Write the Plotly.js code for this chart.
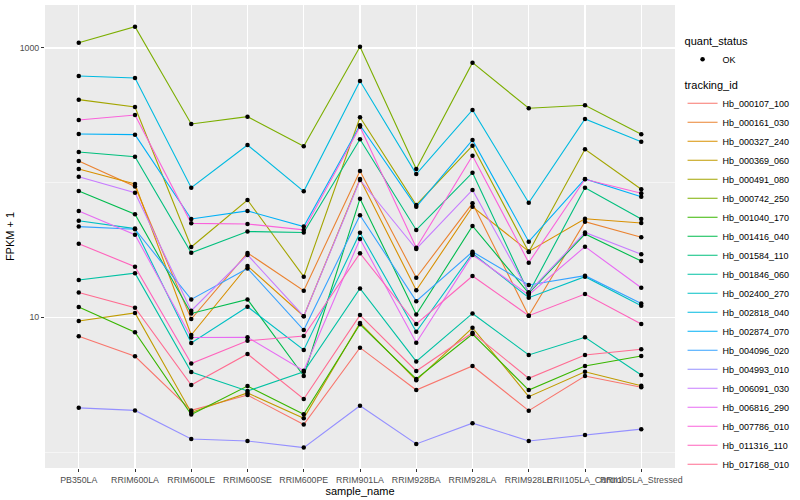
<!DOCTYPE html>
<html><head><meta charset="utf-8">
<script src="https://cdn.plot.ly/plotly-3.0.1.min.js"></script>
<style>html,body{margin:0;padding:0;background:#fff}#chart{width:800px;height:500px}</style>
</head><body><div id="chart"></div>
<script>
const categories = ['PB350LA','RRIM600LA','RRIM600LE','RRIM600SE','RRIM600PE','RRIM901LA','RRIM928BA','RRIM928LA','RRIM928LE','RRII105LA_Control','RRII105LA_Stressed'];
const trackingIds = ['Hb_000107_100','Hb_000161_030','Hb_000327_240','Hb_000369_060','Hb_000491_080','Hb_000742_250','Hb_001040_170','Hb_001416_040','Hb_001584_110','Hb_001846_060','Hb_002400_270','Hb_002818_040','Hb_002874_070','Hb_004096_020','Hb_004993_010','Hb_006091_030','Hb_006816_290','Hb_007786_010','Hb_011316_110','Hb_017168_010'];
const colors = ['#F8766D','#EA8331','#D89000','#C09B00','#A3A500','#7CAE00','#39B600','#00BB4E','#00BF7D','#00C1A3','#00BFC4','#00BAE0','#00B0F6','#35A2FF','#9590FF','#C77CFF','#E76BF3','#FA62DB','#FF62BC','#FF6C91'];
const quantStatus = ['OK'];

const Hb_000107_100 = [7.24, 5.14, 2.04, 2.65, 1.60, 5.96, 2.89, 4.36, 2.03, 3.67, 3.03];
const Hb_000161_030 = [144.9, 93.7, 9.73, 30.1, 15.8, 122.1, 19.7, 70.3, 10.3, 51.3, 39.3];
const Hb_000327_240 = [126.4, 97.8, 7.4, 24.1, 10.2, 106.5, 15.9, 66.3, 30.9, 54.0, 50.2];
const Hb_000369_060 = [9.40, 10.8, 1.97, 2.75, 1.78, 9.09, 3.41, 8.38, 2.58, 3.95, 3.11];
const Hb_000491_080 = [413.3, 364.8, 33.3, 74.4, 20.05, 305.9, 68.3, 188.2, 30.6, 177.0, 89.3];
const Hb_000742_250 = [1095, 1439, 272.7, 309, 186.3, 1022, 126.4, 778, 356.7, 375.5, 228.7];
const Hb_001040_170 = [11.95, 7.75, 1.90, 3.09, 1.91, 8.89, 3.49, 7.53, 2.89, 4.36, 5.17];
const Hb_001416_040 = [86.8, 58.3, 10.7, 13.6, 3.67, 76.1, 10.5, 47.7, 15.1, 41.6, 26.2];
const Hb_001584_110 = [169.0, 156.0, 30.2, 43.4, 42.7, 210.0, 44.6, 118.7, 15.2, 91.8, 53.8];
const Hb_001846_060 = [18.95, 21.3, 3.93, 2.84, 3.95, 16.4, 4.71, 10.7, 5.26, 7.12, 3.74];
const Hb_002400_270 = [52.2, 45.6, 6.46, 12.0, 5.73, 42.5, 7.83, 29.9, 14.0, 20.05, 12.2];
const Hb_002818_040 = [619.6, 598.8, 91.8, 190.5, 86.3, 568.9, 116.0, 346.5, 71.0, 297.1, 201.6];
const Hb_002874_070 = [229.9, 227.2, 53.8, 61.7, 47.2, 266.8, 66.3, 207.5, 36.5, 106.5, 78.7];
const Hb_004096_020 = [47.2, 45.1, 13.6, 23.1, 8.06, 57.3, 13.2, 30.7, 17.4, 20.4, 12.7];
const Hb_004993_010 = [2.13, 2.04, 1.25, 1.21, 1.08, 2.21, 1.15, 1.64, 1.21, 1.34, 1.48];
const Hb_006091_030 = [110.8, 84.3, 11.2, 29.1, 10.2, 104.7, 32.2, 88.3, 15.4, 42.7, 29.4];
const Hb_006816_290 = [61.7, 41.1, 7.1, 7.12, 4.02, 38.2, 6.49, 29.1, 14.7, 33.5, 16.6];
const Hb_007786_010 = [292.1, 318.2, 49.9, 49.4, 44.6, 260.5, 32.9, 158.6, 25.5, 106.0, 83.4];
const Hb_011316_110 = [35.2, 23.8, 4.55, 6.71, 7.27, 29.9, 8.93, 20.3, 10.3, 14.9, 8.93];
const Hb_017168_010 = [15.3, 11.8, 3.15, 5.35, 2.48, 10.4, 4.00, 7.70, 3.53, 5.26, 5.80];

const seriesValues = [Hb_000107_100, Hb_000161_030, Hb_000327_240, Hb_000369_060, Hb_000491_080, Hb_000742_250, Hb_001040_170, Hb_001416_040, Hb_001584_110, Hb_001846_060, Hb_002400_270, Hb_002818_040, Hb_002874_070, Hb_004096_020, Hb_004993_010, Hb_006091_030, Hb_006816_290, Hb_007786_010, Hb_011316_110, Hb_017168_010];

const traces = trackingIds.map((id, i) => ({
  type: 'scatter', mode: 'lines', x: categories, y: seriesValues[i], name: id,
  line: {color: colors[i], width: 1.1}, legend: 'legend2', showlegend: true, hoverinfo: 'skip'
}));
const allX = [], allY = [];
seriesValues.forEach(v => v.forEach((val, j) => { allX.push(categories[j]); allY.push(val); }));
traces.push({type: 'scatter', mode: 'markers', x: allX, y: allY, name: quantStatus[0],
  marker: {color: '#000', size: 4.5}, legend: 'legend', showlegend: true, hoverinfo: 'skip'});

const layout = {
  width: 800, height: 500, showlegend: true,
  margin: {l: 45, r: 117, t: 5, b: 32},
  paper_bgcolor: '#fff', plot_bgcolor: '#EBEBEB',
  font: {family: 'Liberation Sans, Arial, sans-serif', color: '#000'},
  xaxis: {type: 'category', categoryorder: 'array', categoryarray: categories, range: [-0.6, 10.6],
    tickangle: 0, showgrid: true, gridcolor: '#fff', gridwidth: 1.1, ticks: 'outside', ticklen: 3,
    tickcolor: '#333', tickfont: {size: 8.8, color: '#4D4D4D'}, zeroline: false, showline: false,
    title: {text: 'sample_name', font: {size: 11}, standoff: 2}, automargin: false},
  yaxis: {type: 'log', range: [-0.118, 3.319], tickvals: [10, 1000], ticktext: ['10', '1000'],
    showgrid: true, gridcolor: '#fff', gridwidth: 1.1,
    minor: {tickvals: [1, 100], showgrid: true, gridcolor: '#fff', gridwidth: 0.5, ticks: ''},
    ticks: 'outside', ticklen: 3, tickcolor: '#333', tickfont: {size: 8.8, color: '#4D4D4D'},
    zeroline: false, showline: false, title: {text: 'FPKM + 1', font: {size: 11}, standoff: 2}, automargin: false},
  legend: {visible: true, title: {text: 'quant_status', font: {size: 11}}, x: 1.012, xanchor: 'left', y: 0.945, yanchor: 'top',
    font: {size: 9}, bgcolor: 'rgba(0,0,0,0)', itemwidth: 30},
  legend2: {visible: true, title: {text: 'tracking_id', font: {size: 11}}, x: 1.012, xanchor: 'left', y: 0.85, yanchor: 'top',
    font: {size: 9}, bgcolor: 'rgba(0,0,0,0)', itemwidth: 30, tracegroupgap: 0}
};
Plotly.newPlot('chart', traces, layout, {displayModeBar: false, staticPlot: true});
</script></body></html>
